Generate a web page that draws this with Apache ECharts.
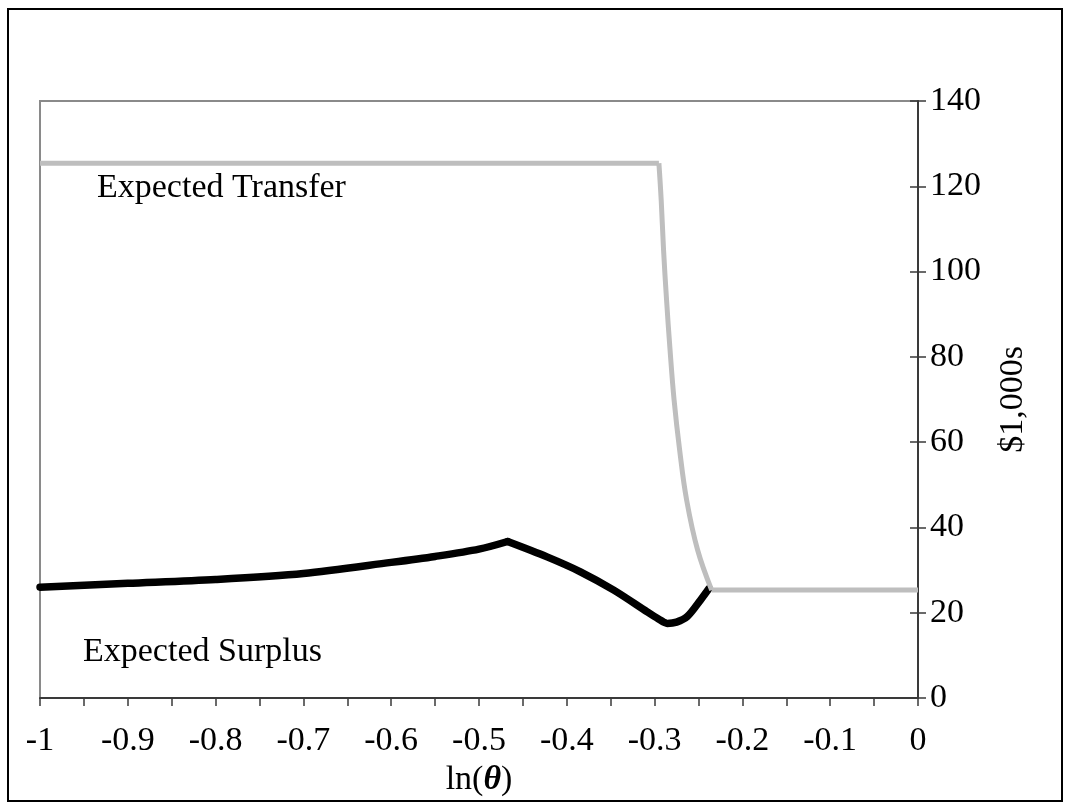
<!DOCTYPE html>
<html>
<head>
<meta charset="utf-8">
<script src="https://cdn.jsdelivr.net/npm/echarts@6/dist/echarts.min.js"></script>
<style>html,body{margin:0;padding:0;background:#fff;}#c{width:1070px;height:810px;}</style>
</head>
<body>
<div id="c"></div>
<script>
// ---- data ----
const xTicks = [-1, -0.9, -0.8, -0.7, -0.6, -0.5, -0.4, -0.3, -0.2, -0.1, 0];
const yTicks = [0, 20, 40, 60, 80, 100, 120, 140];

// Expected Transfer: flat top, falling curve, flat bottom
const transferX = [-1, -0.2951, -0.2925, -0.2898, -0.2864, -0.2824, -0.2778, -0.2715, -0.2635, -0.2510, -0.2350, 0];
const transferY = [125.4, 125.4, 116.8, 105.1, 93.4, 81.6, 69.9, 58.2, 46.4, 34.7, 25.3, 25.3];

// Expected Surplus: rising to a kink, then falling to a trough and rising again
const surplusX = [-1, -0.9, -0.8, -0.7, -0.6, -0.55, -0.5, -0.4674, -0.4225, -0.3845, -0.3465, -0.3084, -0.296, -0.2856, -0.275, -0.2628, -0.2476, -0.238];
const surplusY = [26.0, 26.9, 27.8, 29.2, 31.8, 33.2, 34.9, 36.7, 33.1, 29.6, 25.3, 20.2, 18.6, 17.5, 17.8, 19.1, 23.0, 25.7];

const labelTransfer = 'Expected Transfer';
const labelSurplus = 'Expected Surplus';
const yName = '$1,000s';

// ---- chart ----
const font = '"Liberation Serif", "DejaVu Serif", serif';
const chart = echarts.init(document.getElementById('c'), null, {renderer: 'canvas'});
const zip = (xs, ys, a, b) => xs.slice(a, b).map((x, i) => [x, ys[a + i]]);
const tEnd = transferX.length;
const peakIdx = surplusY.indexOf(Math.max(...surplusY));

const transferStyle = {color: '#bebebe', width: 5, join: 'miter'};
const surplusStyle = {color: '#000', width: 7.5, cap: 'round', join: 'round'};

chart.setOption({
  animation: false,
  backgroundColor: '#fff',
  grid: {left: 40, right: 152, top: 101, bottom: 112, show: true, borderColor: '#8a8a8a', borderWidth: 2, backgroundColor: 'transparent'},
  xAxis: {
    type: 'value', min: xTicks[0], max: xTicks[xTicks.length - 1], interval: 0.1,
    name: '{a|ln(}{b|θ}{a|)}', nameLocation: 'middle', nameGap: 62,
    nameTextStyle: {rich: {a: {fontFamily: font, fontSize: 34, color: '#000'}, b: {fontFamily: font, fontSize: 34, fontStyle: 'italic', fontWeight: 'bold', color: '#000'}}},
    axisLine: {show: true, onZero: false, lineStyle: {color: '#3a3a3a', width: 2}},
    axisTick: {show: true, length: 8, lineStyle: {color: '#3a3a3a', width: 1.5}},
    minorTick: {show: true, splitNumber: 2, length: 8, lineStyle: {color: '#3a3a3a', width: 1.5}},
    axisLabel: {fontFamily: font, fontSize: 34, color: '#000', margin: 26,
      formatter: v => String(Math.round(v * 10) / 10)},
    splitLine: {show: false}
  },
  yAxis: [{
    type: 'value', position: 'right', min: yTicks[0], max: yTicks[yTicks.length - 1], interval: 20,
    name: yName, nameLocation: 'middle', nameGap: 78, nameRotate: 90,
    nameTextStyle: {fontFamily: font, fontSize: 34, color: '#000'},
    axisLine: {show: true, onZero: false, lineStyle: {color: '#3a3a3a', width: 2}},
    axisTick: {show: true, length: 8, lineStyle: {color: '#3a3a3a', width: 1.5}},
    axisLabel: {fontFamily: font, fontSize: 34, color: '#000', margin: 12},
    splitLine: {show: false}
  }, {
    type: 'value', position: 'right', min: yTicks[0], max: yTicks[yTicks.length - 1], interval: 20,
    axisLine: {show: false},
    axisTick: {show: true, inside: true, length: 8, lineStyle: {color: '#3a3a3a', width: 1.5}},
    axisLabel: {show: false},
    splitLine: {show: false}
  }],
  series: [
    {type: 'line', name: labelSurplus, data: zip(surplusX, surplusY, 0, peakIdx + 1),
     showSymbol: false, symbol: 'none', smooth: 0.3, z: 3, lineStyle: surplusStyle},
    {type: 'line', name: labelSurplus, data: zip(surplusX, surplusY, peakIdx, surplusX.length),
     showSymbol: false, symbol: 'none', smooth: 0.3, z: 3, lineStyle: surplusStyle},
    {type: 'line', name: labelTransfer, data: zip(transferX, transferY, 0, 2),
     showSymbol: false, symbol: 'none', z: 4, lineStyle: transferStyle},
    {type: 'line', name: labelTransfer, data: zip(transferX, transferY, 1, tEnd - 1),
     showSymbol: false, symbol: 'none', smooth: 0.4, z: 4, lineStyle: transferStyle},
    {type: 'line', name: labelTransfer, data: zip(transferX, transferY, tEnd - 2, tEnd),
     showSymbol: false, symbol: 'none', z: 4, lineStyle: transferStyle}
  ],
  graphic: [
    {type: 'rect', shape: {x: 8, y: 9, width: 1054, height: 792}, style: {fill: 'none', stroke: '#000', lineWidth: 2}, z: 100, silent: true},
    {type: 'text', left: 97, top: 171, style: {text: labelTransfer, font: '34px ' + font, fill: '#000'}},
    {type: 'text', left: 83, top: 635, style: {text: labelSurplus, font: '34px ' + font, fill: '#000'}}
  ]
});
</script>
</body>
</html>
